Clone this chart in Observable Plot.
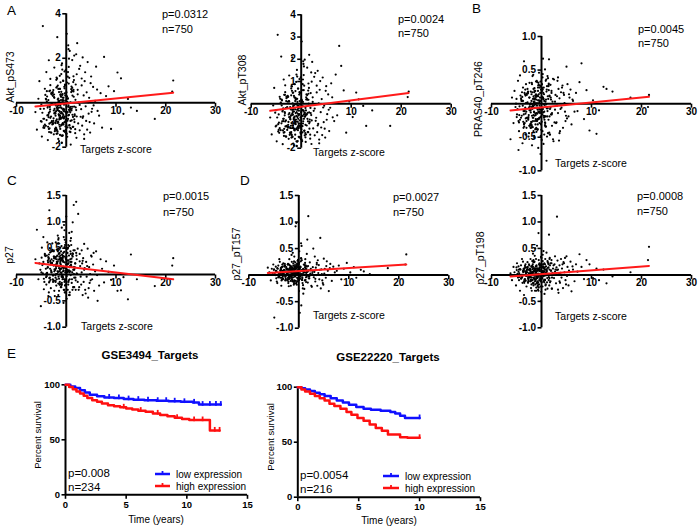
<!DOCTYPE html>
<html><head><meta charset="utf-8">
<script src="https://cdn.jsdelivr.net/npm/d3@7"></script>
<script src="https://cdn.jsdelivr.net/npm/@observablehq/plot@0.6"></script>
<style>
body{margin:0;background:#fff;}
#fig{position:relative;width:700px;height:530px;overflow:hidden;font-family:"Liberation Sans",Arial,sans-serif;}
</style></head>
<body><div id="fig"></div>
<script>
// ---------------- DATA ----------------
const zScore = [
21.5,21.3,17.8,14.2,13.0,12.4,11.5,11.0,10.3,9.6,9.0,8.5,8.0,7.6,
7.2,6.9,6.6,6.3,6.0,5.8,5.6,5.4,5.2,5.0,4.8,4.6,4.5,4.3,4.1,4.0,3.9,3.7,3.6,3.5,3.4,3.3,3.2,3.1,3.0,5.5,4.9,4.2,3.8,3.3,6.2,5.1,4.4,3.6,3.1,4.7,
-6.2,-5.9,-5.6,-5.4,-5.1,-4.9,-4.7,-4.5,-4.3,-4.1,-4.0,-3.8,-3.7,-3.6,-3.5,-3.4,-3.3,-3.2,-3.1,-3.0,-5.0,-4.4,-3.9,-3.5,-3.2,-4.6,
-2.9,-2.7,-2.5,-2.4,-2.2,-2.1,-2.0,-1.9,-1.8,-1.7,-1.6,-1.5,-1.4,-1.3,-1.2,-1.1,-1.0,-0.9,-0.8,-0.7,
-0.6,-0.5,-0.4,-0.3,-0.2,-0.1,0.0,0.1,0.2,0.3,0.4,0.5,0.6,0.7,0.8,0.9,1.0,1.1,1.2,1.3,
1.4,1.5,1.6,1.7,1.8,1.9,2.0,2.1,2.2,2.4,2.5,2.7,2.8,2.9,-2.8,-2.6,-2.3,-1.95,-1.75,-1.55,
-1.35,-1.15,-0.95,-0.75,-0.55,-0.35,-0.15,0.05,0.25,0.45,0.65,0.85,1.05,1.25,1.45,1.65,1.85,2.05,2.3,2.6,
-2.45,-2.15,-1.85,-1.65,-1.45,-1.25,-1.05,-0.85,-0.65,-0.45,-0.25,-0.05,0.15,0.35,0.55,0.75,0.95,1.15,1.35,1.55,
-1.9,-1.6,-1.3,-1.0,-0.7,-0.4,-0.1,0.2,0.5,0.8,1.1,1.4,1.7,2.0,-2.2,-1.2,-0.3,0.6,1.6,2.3,
-1.7,-1.4,-1.1,-0.8,-0.5,-0.2,0.1,0.4,0.7,1.0,1.3,-2.0,-1.5,-0.9,-0.6,0.0,0.3,0.9,1.2,1.8,
-1.25,-0.75,-0.35,0.15,0.45,-1.6,-0.95,0.05,-0.55,0.65,-1.35,-0.15,0.35,-0.8,0.85,-0.45,-1.05,0.25,-0.25,1.9,-2.05,-0.65,0.55,1.45,
-4.8,-4.5,-4.2,-3.95,-3.7,-3.45,-3.25,-3.05,-2.85,-2.65,-2.45,-2.25,-2.05,-1.85,-1.65,-1.45,-1.25,-1.05,-0.85,-0.65,
-4.6,-4.1,-3.6,-3.15,-2.75,-2.35,-1.95,-1.55,-1.15,-0.75,-0.35,0.05,0.45,0.85,1.25,-2.15,-1.75,-1.35,-0.95,-0.55,
-3.85,-3.55,-3.35,-3.1,-2.9,-2.7,-2.5,-2.3,-2.1,-1.9,-1.7,-1.5,-1.3,-1.1,-0.9,-0.7,-0.5,-0.3,-0.1,0.1,
-4.3,-3.75,-3.4,-3.2,-3.0,-2.8,-2.6,-2.4,-2.2,-2.0,-1.8,-1.6,-1.4,-1.2,-1.0,-0.8,-0.6,-0.4,-0.2,0.3,
-5.2,-4.95,-4.05,-3.65,-3.3,-2.95,-2.55,-2.15,-1.8,-1.45,-1.1,-0.75,-0.4,-0.05,0.35,0.7,1.05,1.45,2.1,2.7,
-4.45,-3.9,-3.5,-3.25,-2.95,-2.65,-2.4,-2.2,-1.95,-1.7,-1.45,-1.2,-0.95,-0.7,-0.45,-0.2,0.15,0.55,0.95,1.6
];
const akt_pS473 = [
1.0,0.5,-0.73,-0.37,-0.22,0.17,-0.5,1.1,1.36,0.52,-1.18,0.74,0.3,2.06,
-1.12,0.43,-0.58,-0.37,1.62,0.08,-0.93,0.71,-0.27,1.18,-1.34,0.22,-0.49,1.83,0.47,-0.82,-0.16,0.97,-1.42,0.33,-0.61,2.04,-1.03,0.78,-0.29,-0.12,0.88,-1.21,1.37,-0.68,0.59,-0.41,0.02,-1.63,1.09,-0.87,
-0.42,-1.21,0.18,0.97,-0.83,-1.52,3.45,-0.27,0.63,-1.04,1.38,-0.57,-1.68,0.12,1.91,-0.94,-0.19,0.79,-1.33,0.41,-0.08,-1.13,0.52,-0.46,1.07,-0.72,
-0.83,0.31,-1.42,1.58,-0.47,-1.12,0.68,-0.23,2.95,-0.91,-1.63,0.09,-0.38,1.21,-1.18,-0.72,0.49,-1.81,0.03,-0.62,
0.98,-1.27,-0.31,0.42,-0.88,1.47,-0.07,3.1,-1.53,0.18,-0.57,0.86,-1.02,2.33,-0.43,-1.88,0.61,-0.79,1.92,-0.18,
-1.08,0.27,2.12,-0.52,-1.37,0.82,-0.33,1.28,2.68,-0.93,0.01,-1.24,1.66,-0.63,-0.98,0.57,-0.44,1.13,-1.29,-0.11,
-0.69,0.92,-1.48,0.23,-0.28,1.41,-1.07,0.47,-0.81,2.41,-0.22,-1.32,0.73,-0.54,1.19,-0.87,0.13,-1.58,0.38,1.52,
0.37,-0.92,1.08,-0.34,-1.73,0.62,-0.48,1.77,-0.97,-0.09,0.81,-1.38,0.28,-0.73,1.98,-0.24,-1.17,0.53,-0.64,1.02,
-1.22,0.19,-0.41,1.29,-1.47,0.72,-0.78,0.04,1.61,-1.13,-0.27,0.93,-0.59,2.18,-0.89,0.36,-1.31,1.12,-0.17,0.58,
0.77,-0.99,-0.21,1.49,-0.71,0.32,-1.39,2.58,-0.37,0.48,-1.09,1.03,-0.53,-1.79,0.11,-0.84,1.17,-0.29,0.67,-1.19,
-0.58,0.39,-1.28,0.91,-0.12,-0.89,1.69,-0.47,0.22,-1.01,0.63,-0.42,1.38,-1.49,0.02,-0.68,0.27,-1.11,0.79,-0.21,-0.82,0.99,-0.32,0.51,
-0.45,-1.05,0.35,-0.78,-0.15,-1.32,0.55,-0.62,-0.05,-0.95,0.25,-1.18,-0.38,0.72,-0.85,-0.22,-1.45,0.12,-0.68,-0.32,
-1.12,0.18,-0.55,-0.9,0.42,-0.28,-1.25,0.05,-0.72,-0.48,0.65,-1.02,-0.18,-0.82,0.32,-0.58,-1.38,0.08,-0.42,-0.98,
0.28,-0.65,-1.15,-0.08,-0.88,0.48,-0.35,-1.28,-0.12,-0.75,0.15,-0.52,-1.08,0.38,-0.25,-0.92,0.02,-0.62,-1.22,-0.18,
-0.98,-0.22,0.52,-0.68,-1.35,-0.02,-0.82,0.22,-0.48,-1.15,-0.32,0.62,-0.75,-0.12,-1.02,0.35,-0.55,-0.88,0.1,-0.42,
-0.28,-0.85,0.15,-1.08,-0.4,0.45,-0.7,-1.2,-0.15,-0.58,0.3,-0.95,-0.05,-0.78,0.2,-1.3,-0.35,0.58,-0.62,-0.1,
-0.72,0.05,-1.18,-0.3,0.38,-0.92,-0.48,-0.02,-1.4,-0.25,0.48,-0.65,-1.0,0.12,-0.38,-0.85,0.28,-0.55,-0.18,-0.75
];
const akt_pT308 = [
0.55,0.3,-1.0,-0.3,-1.0,-0.1,0.2,0.5,-0.6,0.1,-1.3,0.6,1.7,2.6,
-0.52,1.31,-0.78,-0.61,0.92,-0.18,-1.23,0.42,-0.47,0.79,-1.52,-0.09,-0.83,1.18,0.21,-1.07,-0.38,0.63,-1.61,0.02,-0.91,1.48,-1.28,0.51,-0.63,-0.27,0.58,-1.41,1.02,-0.98,0.29,-0.72,-0.17,-1.78,0.81,-1.12,
-0.62,-1.38,-0.08,0.71,-1.02,-1.69,3.1,-0.48,0.31,-1.19,2.12,-0.79,-1.82,-0.21,1.09,-1.13,-0.38,0.52,-1.47,0.12,-0.29,-1.31,0.19,-0.68,0.83,-0.92,
-1.02,0.09,-1.58,1.27,-0.69,-1.31,0.38,-0.52,2.08,-1.09,-1.79,-0.18,-0.61,0.88,-1.39,-0.92,0.21,-1.91,-0.28,-0.81,
0.68,-1.49,-0.47,0.12,-1.08,1.19,-0.38,2.8,-1.68,-0.11,-0.79,0.61,-1.22,1.98,-0.57,-1.72,0.29,-0.98,1.62,-0.41,
-1.28,0.01,2.2,-0.71,-1.57,0.48,-0.51,0.99,1.88,-1.11,-0.32,-1.42,1.38,-0.77,-1.18,0.31,-0.62,0.79,-1.48,-0.27,
-0.88,0.57,-1.69,-0.08,-0.52,1.11,-1.29,0.19,-1.01,1.79,-0.39,-1.51,0.42,-0.68,0.91,-1.12,-0.19,-1.81,0.08,1.21,
0.11,-1.08,0.78,-0.49,-1.88,0.28,-0.71,1.52,-1.19,-0.31,0.49,-1.59,0.02,-0.89,1.68,-0.42,-1.38,0.22,-0.79,0.71,
-1.41,-0.12,-0.58,0.98,-1.68,0.41,-0.99,-0.28,1.29,-1.32,-0.48,0.59,-0.82,1.41,-1.09,0.12,-1.49,0.81,-0.39,0.29,
0.49,-1.18,-0.42,1.22,-0.91,0.01,-1.61,1.91,-0.58,0.19,-1.28,0.69,-0.72,-1.89,-0.22,-1.01,0.88,-0.51,0.39,-1.39,
-0.78,0.08,-1.52,0.61,-0.32,-1.09,1.31,-0.69,-0.12,-1.21,0.28,-0.61,1.09,-1.71,-0.19,-0.88,-0.01,-1.29,0.49,-0.42,-0.99,0.68,-0.48,0.18,
-0.62,-1.18,0.22,-0.88,-0.3,-1.45,0.4,-0.75,-0.18,-1.08,0.12,-1.3,-0.52,0.58,-0.98,-0.35,-1.58,-0.02,-0.8,-0.45,
-1.25,0.05,-0.68,-1.02,0.3,-0.42,-1.38,-0.08,-0.85,-0.6,0.52,-1.15,-0.3,-0.95,0.18,-0.7,-1.5,-0.05,-0.55,-1.1,
0.15,-0.78,-1.28,-0.2,-1.0,0.35,-0.48,-1.4,-0.25,-0.88,0.02,-0.65,-1.2,0.25,-0.38,-1.05,-0.1,-0.75,-1.35,-0.3,
-1.1,-0.35,0.4,-0.8,-1.48,-0.15,-0.95,0.1,-0.6,-1.28,-0.45,0.5,-0.88,-0.25,-1.15,0.22,-0.68,-1.0,-0.02,-0.55,
-0.4,-0.98,0.02,-1.2,-0.52,0.32,-0.82,-1.32,-0.28,-0.7,0.18,-1.08,-0.18,-0.9,0.08,-1.42,-0.48,0.45,-0.75,-0.22,
-0.85,-0.08,-1.3,-0.42,0.25,-1.05,-0.6,-0.15,-1.52,-0.38,0.35,-0.78,-1.12,0.0,-0.5,-0.98,0.15,-0.68,-0.3,-0.88
];
const pras40_pT246 = [
0.13,-0.05,0.09,0.18,0.22,0.25,-0.1,-0.45,0.05,-0.4,0.2,-0.23,0.6,0.32,
-0.11,0.16,-0.12,0.04,-0.31,0.21,0.09,-0.19,0.29,0.55,-0.26,0.01,0.13,-0.36,0.24,-0.06,0.17,-0.41,0.08,-0.55,0.22,-0.14,0.34,-0.03,-0.28,0.14,-0.18,0.27,-0.08,0.39,0.06,-0.22,0.16,-0.44,0.11,-0.12,
-0.53,0.09,-0.29,0.19,0.0,-0.16,0.34,-0.41,0.42,-0.21,0.04,-0.59,0.24,-0.36,0.63,-0.11,0.14,-0.46,0.29,-0.26,0.07,-0.04,0.17,-0.31,0.12,-0.69,
-0.21,0.16,-0.44,0.31,-0.09,-0.36,0.04,-0.62,0.41,-0.26,0.11,-0.48,0.19,-0.06,-0.31,0.33,-0.14,0.01,-0.39,0.24,
-0.12,0.46,-0.29,0.09,-0.75,0.21,-0.04,0.29,-0.41,0.67,-0.6,0.14,-0.19,0.51,-0.34,0.06,-0.85,0.26,-0.11,0.38,
-0.24,0.66,0.11,-0.46,0.28,-0.16,0.19,-0.33,0.03,-0.56,0.36,-0.09,0.13,-0.29,0.22,-0.49,-0.01,0.31,-0.21,0.08,
0.06,-0.23,0.34,-0.38,0.14,-0.12,0.26,-0.54,0.44,-0.18,-0.02,-0.34,0.21,-0.07,0.28,-0.46,0.09,-0.16,0.37,-0.28,
-0.33,0.18,-0.08,0.43,-0.51,0.12,-0.24,0.32,-0.66,0.02,0.16,-0.39,0.23,-0.13,0.04,-0.29,0.36,-0.19,0.07,-0.43,
0.29,-0.17,0.08,-0.42,0.19,-0.03,-0.31,0.39,-0.21,0.03,-0.49,0.26,-0.08,0.16,-0.36,-0.01,0.27,-0.24,0.12,-0.53,
-0.04,0.23,-0.38,0.11,-0.22,0.33,-0.09,0.07,-0.28,0.18,-0.44,0.14,0.02,-0.26,0.31,-0.13,0.09,-0.34,0.41,-0.06,
0.19,-0.31,0.04,-0.16,0.24,-0.41,0.12,-0.11,0.28,-0.19,-0.01,-0.48,0.16,-0.24,0.34,-0.07,-0.36,0.21,-0.09,0.06,-0.27,0.11,-0.46,0.3,
-0.08,-0.28,0.12,-0.18,0.04,-0.34,0.21,-0.12,0.01,-0.24,0.09,-0.31,-0.05,0.17,-0.21,-0.02,-0.38,0.06,-0.15,0.27,
-0.26,0.08,-0.11,-0.22,0.15,-0.04,-0.32,0.03,-0.17,-0.09,0.24,-0.27,-0.01,-0.19,0.11,-0.13,-0.35,0.02,-0.07,-0.23,
0.1,-0.16,-0.29,0.01,-0.21,0.18,-0.06,-0.33,0.0,-0.18,0.07,-0.12,-0.26,0.14,-0.03,-0.23,0.05,-0.14,-0.3,0.19,
-0.24,-0.03,0.16,-0.15,-0.36,0.02,-0.2,0.09,-0.1,-0.28,-0.06,0.22,-0.18,0.0,-0.25,0.12,-0.13,-0.21,0.04,-0.08,
-0.05,-0.2,0.06,-0.27,-0.09,0.15,-0.17,-0.3,-0.02,-0.13,0.1,-0.23,0.01,-0.19,0.07,-0.32,-0.07,0.2,-0.14,0.03,
-0.17,0.04,-0.3,-0.06,0.13,-0.22,-0.1,0.0,-0.35,-0.04,0.17,-0.15,-0.25,0.05,-0.08,-0.2,0.1,-0.12,-0.01,-0.19
];
const p27 = [
0.31,0.17,-0.22,-0.09,0.38,-0.47,-0.05,-0.3,-0.31,0.17,-0.1,0.05,0.25,-0.15,
0.11,0.29,-0.21,-0.5,0.44,0.06,-0.31,0.19,-0.09,0.36,0.01,0.14,-0.26,0.49,-0.04,0.24,-0.36,0.12,0.58,-0.14,0.31,-0.39,0.21,0.04,-0.19,0.41,-0.11,0.16,-0.29,0.26,-0.01,0.34,-0.44,0.09,0.46,-0.16,
0.29,0.85,-0.09,0.21,-0.6,0.51,0.02,-0.28,0.39,0.11,-0.19,0.61,0.14,-0.41,0.31,1.22,-0.06,0.24,-0.26,0.44,0.04,-0.14,0.36,-0.34,0.19,0.71,
0.21,-0.09,0.44,-0.31,0.09,0.61,-0.21,0.29,0.01,0.74,-0.39,0.16,0.34,-0.14,0.51,0.04,-0.24,0.89,0.26,-0.06,
0.41,-0.29,0.14,0.66,-0.11,0.31,1.1,-0.46,0.19,0.49,-0.19,0.06,0.79,-0.34,0.24,-0.01,0.56,-0.16,0.36,0.99,
0.09,1.32,-0.24,0.46,0.21,-0.11,1.38,0.29,0.01,1.15,-0.29,0.39,0.16,-0.04,0.59,0.26,-0.41,0.34,0.06,0.69,
-0.19,0.31,0.54,-0.09,0.14,0.84,-0.34,0.19,0.41,-0.14,0.04,0.64,0.24,-0.29,0.46,0.11,-0.06,0.36,0.49,-0.24,
0.34,-0.14,0.21,0.59,-0.31,0.09,0.44,-0.04,0.26,0.94,-0.21,0.29,0.06,0.51,-0.39,0.16,0.69,-0.09,0.39,0.01,
0.24,0.49,-0.19,0.11,0.36,-0.29,0.61,0.04,-0.11,0.29,0.81,-0.24,0.14,0.41,-0.01,0.21,-0.34,0.54,0.09,-0.14,
0.44,0.06,-0.24,0.31,0.71,-0.09,0.19,0.56,-0.39,0.16,0.34,0.01,0.59,-0.19,0.24,0.11,-0.29,0.39,0.04,0.21,
0.11,0.29,-0.14,0.49,0.21,0.66,-0.04,0.34,-0.54,0.14,0.41,-0.19,0.26,-0.01,0.44,-0.09,0.31,0.09,0.56,-0.29,0.19,0.06,0.36,-0.24,
0.18,-0.08,0.35,0.02,0.26,-0.15,0.42,0.08,0.22,-0.02,0.31,-0.12,0.12,0.48,0.05,0.28,-0.18,0.15,0.38,-0.05,
0.24,0.0,0.33,-0.1,0.45,0.1,0.2,-0.04,0.36,0.14,0.52,-0.14,0.27,0.06,0.4,-0.06,0.17,0.3,-0.2,0.11,
0.03,0.29,-0.13,0.21,0.44,-0.01,0.34,0.09,0.16,-0.09,0.25,0.39,0.0,0.19,-0.16,0.32,0.07,0.23,0.12,-0.03,
0.37,0.13,-0.07,0.26,0.05,0.47,-0.11,0.18,0.3,0.01,0.22,-0.17,0.4,0.1,0.28,-0.04,0.15,0.34,0.04,0.2,
0.09,0.32,-0.05,0.23,0.5,0.04,0.17,-0.12,0.36,0.12,0.27,-0.01,0.43,0.07,0.21,-0.09,0.3,0.14,0.02,0.25,
0.2,-0.03,0.38,0.11,0.29,-0.14,0.06,0.33,0.16,0.46,-0.08,0.24,0.03,0.35,0.13,-0.11,0.27,0.08,0.19,-0.06
];
const p27_pT157 = [
0.39,0.2,0.13,0.02,0.07,0.1,-0.05,0.15,0.05,0.23,0.12,-0.08,0.18,0.08,
0.05,0.16,-0.11,0.21,-0.3,0.08,0.26,-0.05,0.12,0.31,-0.15,0.02,0.11,0.7,-0.08,0.19,0.04,-0.2,0.23,0.0,0.14,-0.12,0.35,0.06,-0.04,0.17,-0.18,0.1,0.28,-0.07,0.13,0.03,-0.25,0.2,0.08,-0.1,
0.14,0.05,-0.1,0.12,0.2,-0.8,0.0,0.08,-0.15,0.18,0.03,0.25,-0.05,0.1,-0.2,0.15,0.06,-0.08,0.22,0.0,0.1,-0.12,0.3,0.04,-0.03,0.16,
0.05,-0.1,0.15,0.0,0.2,-0.15,0.1,0.3,-0.05,0.12,-0.2,0.08,0.25,-0.08,0.02,0.18,-0.12,0.35,0.06,-0.02,
0.14,0.98,-0.18,0.04,0.22,-0.06,0.1,0.45,-0.71,0.16,0.0,-0.57,0.28,0.08,-0.25,0.12,0.2,0.05,-0.1,0.3,
0.18,0.02,0.4,0.67,-0.14,1.11,0.09,-0.06,0.24,0.12,-0.2,0.04,0.15,0.5,0.21,0.07,-0.1,0.2,0.0,0.13,
0.1,-0.04,0.26,0.03,-0.16,0.19,0.07,-0.3,0.14,0.32,-0.09,0.11,0.0,0.23,-0.13,0.06,0.17,-0.02,0.09,-0.22,
0.04,0.21,-0.07,0.13,0.38,-0.11,0.08,0.16,0.92,0.02,0.27,0.1,-0.05,0.15,0.55,-0.15,0.06,0.19,-0.09,0.11,
-0.03,0.17,0.09,-0.18,0.24,0.05,-0.1,0.14,0.31,0.01,-0.26,0.12,0.07,-0.06,0.2,0.42,-0.12,0.08,0.16,0.03,
0.11,-0.08,0.22,0.04,-0.14,0.15,0.0,0.26,-0.04,0.09,0.18,-0.21,0.06,0.13,-0.11,0.2,0.02,-0.35,0.1,0.07,
0.08,0.19,-0.05,0.12,0.6,0.01,-0.16,0.23,0.05,-0.09,0.14,0.29,-0.02,0.1,-0.19,0.17,0.04,-0.07,0.21,0.0,-0.12,0.15,0.09,-0.04,
0.04,-0.06,0.12,0.0,0.09,-0.1,0.16,0.02,0.07,-0.03,0.11,-0.08,0.05,0.19,-0.01,0.1,-0.12,0.06,0.14,0.01,
0.08,-0.04,0.13,-0.07,0.18,0.03,0.06,-0.02,0.12,0.0,0.21,-0.09,0.09,0.02,0.15,-0.05,0.05,0.11,-0.13,0.04,
0.0,0.1,-0.08,0.07,0.17,-0.03,0.12,0.03,0.05,-0.06,0.08,0.14,-0.01,0.06,-0.1,0.11,0.02,0.09,0.04,-0.04,
0.13,0.03,-0.05,0.08,0.01,0.16,-0.07,0.06,0.1,-0.02,0.07,-0.11,0.15,0.03,0.09,-0.03,0.05,0.12,0.0,0.07,
0.02,0.11,-0.04,0.08,0.2,0.01,0.06,-0.08,0.13,0.04,0.09,-0.01,0.16,0.02,0.07,-0.06,0.1,0.05,-0.02,0.08,
0.06,-0.02,0.14,0.03,0.1,-0.09,0.01,0.12,0.05,0.17,-0.05,0.08,0.0,0.13,0.04,-0.07,0.09,0.02,0.06,-0.03
];
const p27_pT198 = [
0.53,0.28,0.05,-0.03,-0.16,0.1,-0.1,0.12,-0.06,0.2,0.28,-0.08,0.15,0.39,
0.06,0.2,-0.12,0.1,-0.31,0.25,0.0,-0.2,0.15,0.35,-0.1,0.05,0.22,-0.25,0.12,-0.05,0.3,-0.15,0.18,0.02,-0.34,0.1,0.27,1.1,0.14,0.08,-0.18,0.2,0.04,-0.28,0.16,-0.02,0.24,-0.12,0.09,0.32,
0.03,-0.1,0.15,0.05,-0.2,0.22,-0.05,0.1,-0.3,0.18,0.0,-0.15,0.25,0.08,-0.38,0.12,-0.08,0.2,0.02,-0.22,0.14,-0.04,0.3,-0.12,0.06,0.16,
0.1,-0.15,0.2,-0.05,0.3,-0.25,0.05,0.15,-0.1,0.4,-0.2,0.0,0.25,-0.3,0.12,-0.08,0.18,0.55,-0.12,0.08,
0.79,-0.18,0.22,-0.06,0.14,-0.5,0.32,0.02,-0.22,0.16,0.45,-0.1,0.06,0.2,-0.28,0.16,0.1,-0.14,0.26,0.0,
0.14,0.76,0.3,0.18,-0.12,0.08,0.22,-0.26,0.04,0.18,-0.06,0.35,0.1,-0.16,0.24,-0.04,0.12,-0.3,0.2,0.06,
-0.08,0.16,0.02,-0.22,0.28,0.1,-0.12,0.2,0.38,-0.02,0.14,-0.18,0.06,0.24,-0.1,0.32,0.0,-0.26,0.12,0.2,
0.18,-0.04,0.26,-0.16,0.08,0.5,-0.24,0.12,0.02,-0.1,0.2,-0.32,0.14,0.04,-0.14,0.3,0.1,-0.06,0.22,-0.2,
0.04,0.24,-0.12,0.16,-0.28,0.08,0.34,-0.06,0.12,-0.2,0.02,0.2,-0.14,0.28,0.06,-0.1,0.18,-0.36,0.1,0.0,
-0.16,0.12,0.3,-0.04,0.2,-0.22,0.06,0.14,-0.1,0.42,0.0,-0.18,0.24,0.08,-0.3,0.16,-0.02,0.1,-0.26,0.22,
0.06,-0.2,0.18,0.02,-0.12,0.28,-0.06,0.14,-0.24,0.1,0.36,-0.08,0.2,-0.16,0.04,0.12,-0.3,0.26,-0.02,0.08,0.16,-0.14,0.22,-0.04,
0.02,-0.1,0.1,-0.04,0.07,-0.15,0.14,-0.02,0.05,-0.08,0.09,-0.12,0.03,0.17,-0.05,0.08,-0.18,0.04,0.12,-0.01,
0.06,-0.07,0.11,-0.11,0.15,0.0,0.04,-0.06,0.1,-0.03,0.19,-0.14,0.07,-0.01,0.13,-0.09,0.03,0.09,-0.16,0.01,
-0.03,0.08,-0.12,0.05,0.14,-0.06,0.1,0.0,0.02,-0.1,0.06,0.12,-0.04,0.03,-0.14,0.09,-0.01,0.07,0.01,-0.07,
0.11,0.0,-0.09,0.06,-0.02,0.13,-0.11,0.03,0.08,-0.05,0.04,-0.15,0.12,0.01,0.07,-0.06,0.02,0.1,-0.03,0.05,
-0.01,0.09,-0.07,0.05,0.17,-0.02,0.03,-0.12,0.11,0.01,0.07,-0.04,0.14,-0.01,0.05,-0.09,0.08,0.02,-0.05,0.06,
0.03,-0.05,0.12,0.0,0.08,-0.13,-0.02,0.1,0.02,0.15,-0.08,0.06,-0.03,0.11,0.01,-0.11,0.07,-0.01,0.04,-0.06
];
const panelNames = ["Akt_pS473","Akt_pT308","PRAS40_pT246","p27","p27_pT157","p27_pT198"];
const panelLetters = ["A","","B","C","D",""];
const pValues = ["p=0.0312","p=0.0024","p=0.0045","p=0.0015","p=0.0027","p=0.0008"];
const nValues = [750,750,750,750,750,750];
const fitSlope = [0.0224,0.029,0.0073,-0.0112,0.0058,0.0072];
const fitIntercept = [-0.03,-0.14,-0.055,0.15,0.076,0.015];
const yDomains = [[-2,4],[-2,4],[-1,1],[-1,1.5],[-1,1.5],[-1,1.5]];
const yTickValues = [[-2,2,4],[-2,-1,1,2,3,4],[-1,-0.5,0.5,1],[-1,-0.5,0.5,1,1.5],[-1,-0.5,0.5,1,1.5],[-1,-0.5,0.5,1,1.5]];
const xTickValues = [-10,10,20,30];
const xLabel = "Targets z-score";

// Kaplan-Meier
const kmTitles = ["GSE3494_Targets","GSE22220_Targets"];
const kmP = ["p=0.008","p=0.0054"];
const kmN = ["n=234","n=216"];
const kmGroups = ["low expression","high expression"];
const gse3494_lowT = [0,0.4,0.8,1.2,1.6,2.0,2.6,3.2,4.0,4.8,5.6,6.5,7.5,8.5,9.5,10.5,11.0,12.8];
const gse3494_lowS = [100,98.5,97,95,93,91,89.5,88.5,88,87,86.5,86,85.5,85,84.5,84,82,82];
const gse3494_highT = [0,0.3,0.6,0.9,1.2,1.5,1.8,2.2,2.6,3.0,3.5,4.0,4.5,5.0,5.5,6.0,6.6,7.2,7.8,8.4,9.0,9.6,10.2,11.9,12.7];
const gse3494_highS = [100,98,96,94,92,90,88,86,84.5,83,81.5,80.5,79.5,78.5,77.5,76.5,75.5,74,72.5,71.5,70,69,68,58.5,58.5];
const gse3494_lowCensor = [3.6,4.4,5.2,6.0,6.8,7.6,8.3,9.0,9.8,10.6,11.3,11.9,12.4,12.8];
const gse3494_highCensor = [4.8,6.2,7.6,9.2,10.6,11.3,12.3,12.7];
const gse22220_lowT = [0,0.3,0.6,1.0,1.4,1.8,2.2,2.7,3.2,3.7,4.2,4.8,5.4,6.0,6.8,7.6,8.0,8.4,8.8,10.0];
const gse22220_lowS = [100,99,98,96.5,95,93.5,92,90,88,86,84,82,80.5,79.5,78.5,77.5,76,74,72,72];
const gse22220_highT = [0,0.3,0.6,1.0,1.4,1.8,2.2,2.6,3.0,3.5,4.0,4.4,4.9,5.4,5.9,6.4,6.9,7.4,8.4,9.0,10.0];
const gse22220_highS = [100,98,96,94,92,90,88,85,83,80.5,77.5,75,72,69.5,66,63,60.5,57,54.5,54,54];
const gse22220_lowCensor = [10.0];
const gse22220_highCensor = [10.0];
const kmXTicks = [0,5,10,15];
const kmYTicks = [0,50,100];

// ---------------- LAYOUT ----------------
const FONT = "'Liberation Sans', Arial, Helvetica, sans-serif";
const fig = document.getElementById("fig");
const scatterSeries = [akt_pS473, akt_pT308, pras40_pT246, p27, p27_pT157, p27_pT198];
const scatterBoxes = [
  {left:0,   top:0,   w:230, h:175, x0:16,    x1:215,   yb:146.7, yt:13.3},
  {left:230, top:0,   w:230, h:175, x0:250.7, x1:450.7, yb:147.7, yt:14.3},
  {left:460, top:0,   w:240, h:190, x0:491,   x1:691,   yb:170.3, yt:36},
  {left:0,   top:180, w:230, h:170, x0:16,    x1:215,   yb:326.7, yt:195},
  {left:230, top:180, w:230, h:170, x0:248.3, x1:448.3, yb:327.7, yt:195},
  {left:460, top:180, w:240, h:170, x0:491,   x1:691,   yb:327.3, yt:195}
];
const scatterText = [
  {letter:[7,15],   ylab:[9.5,77],   xlab:[116,153], pn:[162,18,33]},
  {letter:[0,0],    ylab:[242,80],   xlab:[349,156], pn:[398,23,36.5]},
  {letter:[472,13], ylab:[478,99],   xlab:[591,167], pn:[638,33,46.5]},
  {letter:[7,185],  ylab:[9,255],    xlab:[117,330], pn:[163,200,215.5]},
  {letter:[240,185],ylab:[235.5,254],xlab:[349,319], pn:[393,201,216]},
  {letter:[0,0],    ylab:[480,258],  xlab:[591,320], pn:[637,200,215]}
];
const kmBoxes = [
  {left:0,   top:370, w:300, h:160, x0:65,    x1:247, yb:494.3, yt:384.3},
  {left:250, top:370, w:300, h:160, x0:297.3, x1:480, yb:496.7, yt:386.7}
];

const tickDown = {draw(c){ c.moveTo(0,0); c.lineTo(0,4); }};
const tickLeft = {draw(c){ c.moveTo(0,0); c.lineTo(-4,0); }};
const censorMark = {draw(c){ c.moveTo(0,-3.5); c.lineTo(0,1.2); }};
const fmtInt = d => (d < 0 ? "-" : "") + Math.abs(d);
const fmt1 = d => (d < 0 ? "-" : "") + Math.abs(d).toFixed(1);

function place(svg, box) {
  svg.style.position = "absolute";
  svg.style.left = box.left + "px";
  svg.style.top = box.top + "px";
  fig.appendChild(svg);
}
function margins(b) {
  return {width:b.w, height:b.h, marginLeft:b.x0-b.left, marginRight:b.left+b.w-b.x1,
          marginTop:b.yt-b.top, marginBottom:b.top+b.h-b.yb};
}
const baseStyle = {background:"transparent", overflow:"visible", fontFamily:FONT, fontSize:"10px", color:"black"};

// scatter panels
scatterSeries.forEach((ys, k) => {
  const b = scatterBoxes[k];
  const data = zScore.map((x, i) => ({x, y: ys[i]}));
  const [xmin, xmax] = d3.extent(zScore);
  const fit = [xmin, xmax].map(x => ({x, y: fitIntercept[k] + fitSlope[k] * x}));
  const [ylo, yhi] = yDomains[k];
  const fy = k < 2 ? fmtInt : fmt1;
  const svg = Plot.plot({
    ...margins(b),
    x: {domain: [-10, 30], axis: null},
    y: {domain: yDomains[k], axis: null},
    style: baseStyle,
    marks: [
      Plot.dot(data, {x: "x", y: "y", r: 1.1, fill: "black", stroke: "none"}),
      Plot.ruleY([0], {x1: -10, x2: 30, stroke: "black", strokeWidth: 2}),
      Plot.ruleX([0], {y1: ylo, y2: yhi, stroke: "black", strokeWidth: 2}),
      Plot.dot(xTickValues, {x: d => d, y: 0, symbol: tickDown, fill: "none", stroke: "black", strokeWidth: 1.6}),
      Plot.dot(yTickValues[k], {x: 0, y: d => d, symbol: tickLeft, fill: "none", stroke: "black", strokeWidth: 1.6}),
      Plot.text(xTickValues, {x: d => d, y: 0, text: fmtInt, dy: 8, lineAnchor: "middle", fontWeight: "bold", fontSize: 10}),
      Plot.text(yTickValues[k], {x: 0, y: d => d, text: fy, dx: -5.5, textAnchor: "end", lineAnchor: "middle", fontWeight: "bold", fontSize: 10}),
      Plot.line(fit, {x: "x", y: "y", stroke: "#ff1a1a", strokeWidth: 2})
    ]
  });
  place(svg, b);
});

// KM panels
const kmSets = [
  {low:[gse3494_lowT, gse3494_lowS, gse3494_lowCensor], high:[gse3494_highT, gse3494_highS, gse3494_highCensor]},
  {low:[gse22220_lowT, gse22220_lowS, gse22220_lowCensor], high:[gse22220_highT, gse22220_highS, gse22220_highCensor]}
];
function stepAt(T, S, t) { return S[Math.max(0, d3.bisectRight(T, t) - 1)]; }
kmSets.forEach((set, k) => {
  const b = kmBoxes[k];
  const mk = ([T, S]) => T.map((t, i) => ({t, s: S[i]}));
  const cens = ([T, S, C]) => C.map(t => ({t, s: stepAt(T, S, t)}));
  const svg = Plot.plot({
    ...margins(b),
    x: {domain: [0, 15], axis: null},
    y: {domain: [0, 100], axis: null},
    style: baseStyle,
    marks: [
      Plot.ruleX([0], {y1: 0, y2: 100, stroke: "black", strokeWidth: 2}),
      Plot.ruleY([0], {x1: 0, x2: 15, stroke: "black", strokeWidth: 2}),
      Plot.dot(kmXTicks, {x: d => d, y: 0, symbol: tickDown, fill: "none", stroke: "black", strokeWidth: 1.6}),
      Plot.dot(kmYTicks, {x: 0, y: d => d, symbol: tickLeft, fill: "none", stroke: "black", strokeWidth: 1.6}),
      Plot.text(kmXTicks, {x: d => d, y: 0, text: d => String(d), dy: 10, lineAnchor: "middle", fontWeight: "bold", fontSize: 9.5}),
      Plot.text(kmYTicks, {x: 0, y: d => d, text: d => String(d), dx: -5.5, textAnchor: "end", lineAnchor: "middle", fontWeight: "bold", fontSize: 9.5}),
      Plot.line(mk(set.low), {x: "t", y: "s", curve: "step-after", stroke: "#1010ff", strokeWidth: 2.5}),
      Plot.dot(cens(set.low), {x: "t", y: "s", symbol: censorMark, fill: "none", stroke: "#1010ff", strokeWidth: 1.8}),
      Plot.line(mk(set.high), {x: "t", y: "s", curve: "step-after", stroke: "#ff1010", strokeWidth: 2.5}),
      Plot.dot(cens(set.high), {x: "t", y: "s", symbol: censorMark, fill: "none", stroke: "#ff1010", strokeWidth: 1.8})
    ]
  });
  place(svg, b);
});

// ---------------- TEXT OVERLAY ----------------
const ov = d3.select(fig).append("svg")
  .attr("width", 700).attr("height", 530)
  .style("position", "absolute").style("left", 0).style("top", 0)
  .style("pointer-events", "none")
  .attr("font-family", FONT);
function txt(s, x, y, size, o = {}) {
  const t = ov.append("text").attr("x", x).attr("y", y).text(s)
    .attr("font-size", size).attr("fill", "black")
    .attr("font-weight", o.bold ? "bold" : "normal")
    .attr("text-anchor", o.anchor || "start");
  if (o.rotate) t.attr("transform", `rotate(-90 ${x} ${y})`).attr("dominant-baseline", "central").attr("text-anchor", "middle");
  return t;
}
scatterText.forEach((p, k) => {
  if (panelLetters[k]) txt(panelLetters[k], p.letter[0], p.letter[1], 13.5);
  txt(panelNames[k], p.ylab[0], p.ylab[1], 10.5, {rotate: true});
  txt(xLabel, p.xlab[0], p.xlab[1], 10.5, {anchor: "middle"});
  txt(pValues[k], p.pn[0], p.pn[1], 11);
  txt("n=" + nValues[k], p.pn[0], p.pn[2], 11);
});
txt("E", 7, 358, 13.5);
const kmText = [
  {title:[150,359], ylab:[37,435], xlab:[156,523], pn:[68,477,491], leg:[155,170,474,486]},
  {title:[388,361], ylab:[270,437], xlab:[389,524], pn:[300,479,493], leg:[383,399,476,488]}
];
const kmColors = ["#1010ff", "#ff1010"];
kmText.forEach((p, k) => {
  txt(kmTitles[k], p.title[0], p.title[1], 11.5, {bold: true, anchor: "middle"});
  txt("Percent survival", p.ylab[0], p.ylab[1], 9.5, {rotate: true});
  txt("Time (years)", p.xlab[0], p.xlab[1], 10, {anchor: "middle"});
  txt(kmP[k], p.pn[0], p.pn[1], 11.5);
  txt(kmN[k], p.pn[0], p.pn[2], 11.5);
  [0, 1].forEach(g => {
    const yy = p.leg[2 + g];
    ov.append("line").attr("x1", p.leg[0]).attr("x2", p.leg[1]).attr("y1", yy).attr("y2", yy)
      .attr("stroke", kmColors[g]).attr("stroke-width", 2.5);
    ov.append("line").attr("x1", (p.leg[0] + p.leg[1]) / 2).attr("x2", (p.leg[0] + p.leg[1]) / 2)
      .attr("y1", yy - 3).attr("y2", yy + 1).attr("stroke", kmColors[g]).attr("stroke-width", 1.8);
    txt(kmGroups[g], p.leg[1] + 6, yy + 3.5, 10);
  });
});
// sanity check on array lengths
scatterSeries.forEach((s, k) => { if (s.length !== zScore.length) txt("len " + k + ":" + s.length, 300, 10 + 12 * k, 10); });
</script>
</body></html>
